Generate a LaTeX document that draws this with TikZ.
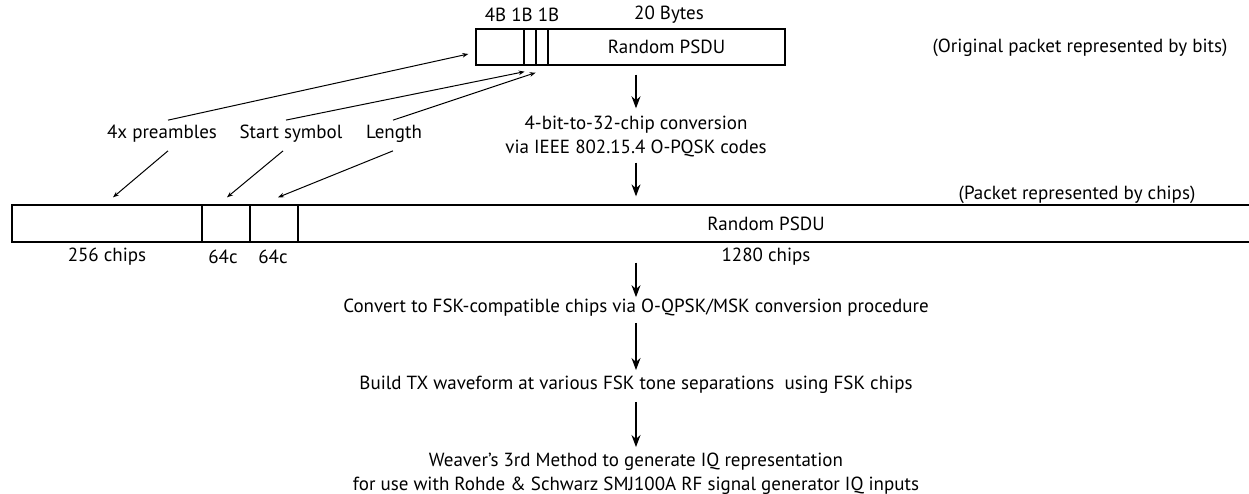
\documentclass[tikz,border=0pt]{standalone}
\usepackage{fontspec}
\setmainfont{PT Sans}
\usetikzlibrary{arrows.meta}

\begin{document}
\begin{tikzpicture}[x=1pt,y=-1pt]
\tikzstyle{mythin}=[line width=1.3pt];
\tikzstyle{cell}=[draw=black,rectangle,inner sep=0pt,mythin,minimum height=36pt]
\tikzstyle{txt}=[inner sep=0pt,font=\fontsize{19}{24}\selectfont,align=center]
\tikzstyle{ar}=[draw=black,line width=1.2pt,-{Stealth[length=12pt,width=9pt]}]
\tikzstyle{sar}=[draw=black,line width=1pt,-{Stealth[length=6pt,width=4.5pt]}]
\useasboundingbox (0,0) rectangle (1249,494);
% packet of bits
\node [cell,minimum width=48pt] (pre) at (500,47) {};
\node [cell,minimum width=12pt] (sfd) at (530,47) {};
\node [cell,minimum width=12pt] (len) at (542,47) {};
\node [cell,minimum width=237pt,txt] (psdu) at (666.5,47) {Random PSDU};
\node [txt] (szl) at (522,15) {4B 1B 1B};
\node [txt] (szr) at (669,15) {20 Bytes};
\node [txt] (orig) at (1080,48) {(Original packet represented by bits)};
% field names
\node [txt] (lbpre) at (162,134) {4x preambles};
\node [txt] (lbsfd) at (291,134) {Start symbol};
\node [txt] (lblen) at (394,134) {Length};
\node [txt] (conv) at (636,136) {4-bit-to-32-chip conversion\\via IEEE 802.15.4 O-PQSK codes};
% packet of chips
\node [cell,minimum height=37pt,minimum width=190pt] (cpre) at (107,223.5) {};
\node [cell,minimum height=37pt,minimum width=48pt] (csfd) at (226,223.5) {};
\node [cell,minimum height=37pt,minimum width=48pt] (clen) at (274,223.5) {};
\node [cell,minimum height=37pt,minimum width=962pt] (cpsdu) at (779,223.5) {};
\node [txt] (cpsdutxt) at (766,224) {Random PSDU};
\node [txt] (chips) at (1077,195) {(Packet represented by chips)};
\node [txt] (n256) at (107,257) {256 chips};
\node [txt] (n64a) at (223,257) {64c};
\node [txt] (n64b) at (273,257) {64c};
\node [txt] (n1280) at (766,257) {1280 chips};
% processing steps
\node [txt] (fsk) at (636,308) {Convert to FSK-compatible chips via O-QPSK/MSK conversion procedure};
\node [txt] (build) at (636,385) {Build TX waveform at various FSK tone separations~ using FSK chips};
\node [txt] (weaver) at (636,474) {Weaver’s 3rd Method to generate IQ representation\\for use with Rohde \& Schwarz SMJ100A RF signal generator IQ inputs};
% arrows
\draw [sar] ([shift={(6,-5)}]lbpre.north) -- ([shift={(-7,7)}]pre.west);
\draw [sar] ([shift={(-5,-5)}]lbsfd.north) -- ([shift={(0,6)}]pre.south east);
\draw [sar] ([shift={(-1,-5)}]lblen.north) -- ([shift={(-1,7)}]sfd.south east);
\draw [sar] ([shift={(6,8)}]lbpre.south) -- ([shift={(6,-7)}]cpre.north);
\draw [sar] ([shift={(-8,8)}]lbsfd.south) -- ([shift={(1,-7)}]csfd.north);
\draw [sar] ([shift={(-1,8)}]lblen.south) -- ([shift={(4,-7)}]clen.north);
\draw [ar,shorten <=9pt,shorten >=7pt] (conv.north |- psdu.south) -- (conv.north);
\draw [ar,shorten <=6pt,shorten >=8pt] (conv.south) -- (conv.south |- cpsdu.north);
\draw [ar,shorten <=20pt,shorten >=2pt] (conv.south |- cpsdu.south) -- (fsk.north);
\draw [ar,shorten <=6pt,shorten >=6pt] (fsk.south) -- (build.north);
\draw [ar,shorten <=8pt,shorten >=6pt] (build.south) -- (weaver.north);
\end{tikzpicture}
\end{document}
